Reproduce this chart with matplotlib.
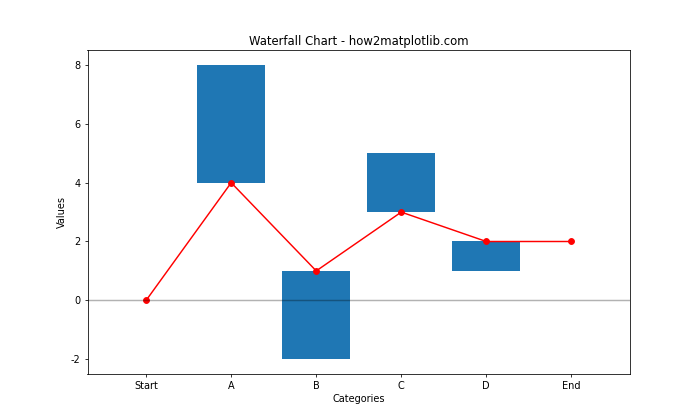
import matplotlib
matplotlib.use('Agg')
import matplotlib.pyplot as plt
import numpy as np

categories = ['Start', 'A', 'B', 'C', 'D', 'End']
values = [0, 4, -3, 2, -1, 0]
cumulative = [0, 4, 1, 3, 2, 2]

x = np.arange(len(categories))

# 10x6 inches at 70 dpi -> 700x420 px
fig, ax = plt.subplots(figsize=(10, 6), dpi=70)

# each bar starts at the running total and goes by the step value
ax.bar(x, values, bottom=cumulative, color='#1f77b4', width=0.8)

ax.plot(x, cumulative, 'ro-')
ax.axhline(0, color='black', alpha=0.3)

ax.set_xticks(x)
ax.set_xticklabels(categories)
ax.set_yticks([-2, 0, 2, 4, 6, 8])
ax.set_yticklabels(['-2', '0', '2', '4', '6', '8'])
ax.set_title('Waterfall Chart - how2matplotlib.com')
ax.set_xlabel('Categories')
ax.set_ylabel('Values')

fig.savefig('out.png', dpi=70)
